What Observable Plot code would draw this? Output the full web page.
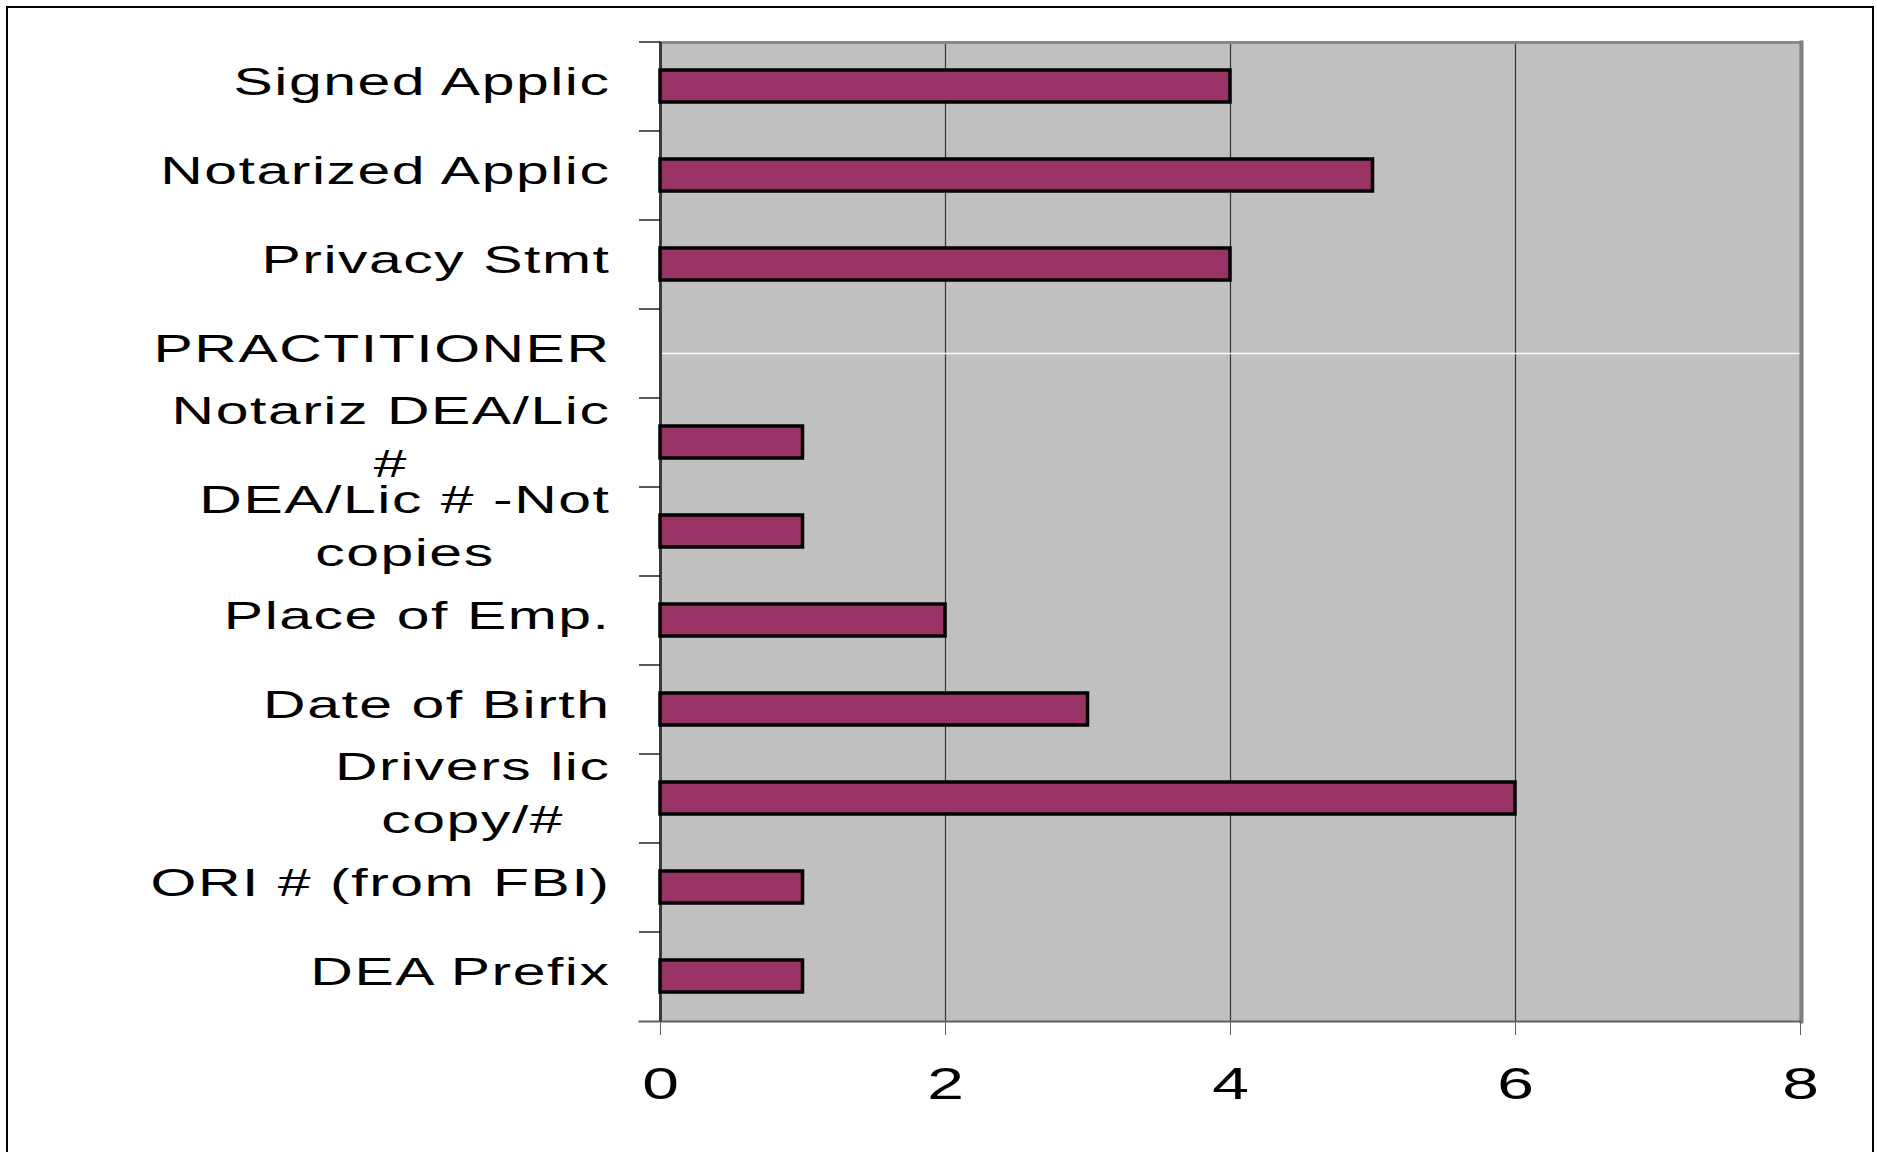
<!DOCTYPE html>
<html><head><meta charset="utf-8">
<script src="https://cdn.jsdelivr.net/npm/d3@7"></script>
<script src="https://cdn.jsdelivr.net/npm/@observablehq/plot@0.6"></script>
<style>
html,body{margin:0;padding:0;background:#fff;overflow:hidden;}
#chart{position:absolute;left:0;top:0;}
#border{position:absolute;left:6px;top:6px;width:1868px;height:1200px;border:2px solid #000;border-bottom:none;box-sizing:border-box;pointer-events:none;}
#chart svg g[aria-label="y-axis tick label"] text{letter-spacing:1px;}
</style></head><body>
<div id="chart"></div>
<div id="border"></div>
<script>
const categories = ["Signed Applic","Notarized Applic","Privacy Stmt","PRACTITIONER","Notariz DEA/Lic\n#","DEA/Lic # -Not\ncopies","Place of Emp.","Date of Birth","Drivers lic\ncopy/#","ORI # (from FBI)","DEA Prefix"];
const values = [4,5,4,null,1,1,2,3,6,1,1];
const xTicks = [0,2,4,6,8];
const dividerCategory = ["PRACTITIONER"];

const data = categories.map((c,i)=>({category:c, value:values[i]}));
const W = 1877, H = 1152, mTop = 42, mBottom = 131, mLeft = 660, mRight = 77;
const step = (H - mTop - mBottom) / categories.length;

const svg = Plot.plot({
  width: W, height: H,
  marginTop: mTop, marginBottom: mBottom, marginLeft: mLeft, marginRight: mRight,
  style: {background:"transparent", fontFamily:"'Liberation Sans', Arial, sans-serif", color:"#000"},
  x: {domain:[0,8], label:null},
  y: {domain: categories, paddingInner:0.64, paddingOuter:0.32, label:null},
  marks: [
    Plot.frame({fill:"#C0C0C0"}),
    Plot.gridX(xTicks, {stroke:"#333", strokeOpacity:1, strokeWidth:1.2}),
    Plot.ruleY(dividerCategory, {stroke:"#fff", strokeWidth:1.5}),
    Plot.frame({anchor:"top", stroke:"#8a8a8a", strokeWidth:3}),
    Plot.frame({anchor:"right", stroke:"#808080", strokeWidth:4, dx:1}),
    Plot.frame({anchor:"bottom", stroke:"#606060", strokeWidth:2, insetLeft:-21}),
    Plot.ruleX([0], {stroke:"#3a3a3a", strokeWidth:3}),
    Plot.ruleY(categories, {y:d=>d, x1:0, x2:0, insetLeft:-21, dy:-step/2, stroke:"#000", strokeWidth:1.3}),
    Plot.barX(data.filter(d=>d.value!=null), {x:"value", y:"category", fill:"#993366", stroke:"#000", strokeWidth:3.5}),
    Plot.axisX(xTicks, {tickSize:14, tickPadding:32, stroke:"#606060", fontSize:44, tickFormat:d=>String(d), label:null}),
    Plot.axisY({tickSize:0, tickPadding:50, fontSize:38, dy:-9, lineHeight:1.4, label:null})
  ]
});
document.getElementById("chart").append(svg);

svg.querySelectorAll('g[aria-label="y-axis tick label"] text').forEach(t => {
  const spans = t.querySelectorAll("tspan");
  if (spans.length > 1) {
    const w = t.getBBox().width;
    t.setAttribute("text-anchor","middle");
    spans.forEach(s => s.setAttribute("x", (-w/2).toFixed(2)));
  }
  t.setAttribute("transform", (t.getAttribute("transform")||"") + " scale(1.55,1)");
});
svg.querySelectorAll('g[aria-label="x-axis tick label"] text').forEach(t => {
  t.setAttribute("transform", (t.getAttribute("transform")||"") + " scale(1.5,1)");
});
</script>
</body></html>
